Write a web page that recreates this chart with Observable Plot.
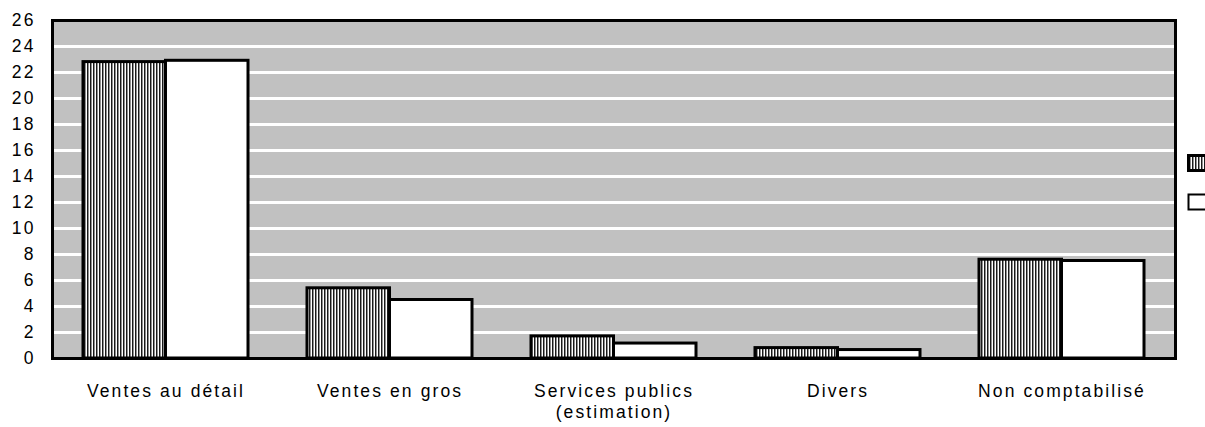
<!DOCTYPE html>
<html>
<head>
<meta charset="utf-8">
<script src="https://cdn.jsdelivr.net/npm/d3@7"></script>
<script src="https://cdn.jsdelivr.net/npm/@observablehq/plot@0.6"></script>
<style>
  html, body { margin: 0; padding: 0; background: #fff; overflow: hidden; }
  #wrap { position: relative; width: 1205px; height: 427px; }
  #wrap svg text { letter-spacing: 2.1px; }
  #legend { position: absolute; left: 1186px; top: 150px; }
</style>
</head>
<body>
<div id="wrap"></div>
<script>
// ---- data ----
const categories = ["Ventes au détail", "Ventes en gros", "Services publics\n(estimation)", "Divers", "Non comptabilisé"];
const seriesNames = ["Série 1", "Série 2"];
const serie1 = [22.8, 5.4, 1.7, 0.8, 7.6];
const serie2 = [22.9, 4.5, 1.15, 0.65, 7.5];
const yTicks = [0, 2, 4, 6, 8, 10, 12, 14, 16, 18, 20, 22, 24, 26];

const rows1 = categories.map((c, i) => ({category: c, series: seriesNames[0], value: serie1[i]}));
const rows2 = categories.map((c, i) => ({category: c, series: seriesNames[1], value: serie2[i]}));

// ---- layout ----
const W = 1205, H = 427;
const mL = 52, mR = 30, mT = 20, mB = 69;
const pIn = 0.265, pOut = 0.134;
const step = (W - mL - mR) / (categories.length - pIn + 2 * pOut);
const bw = step * (1 - pIn);
const half = bw / 2;

const chart = Plot.plot({
  width: W,
  height: H,
  marginLeft: mL,
  marginRight: mR,
  marginTop: mT,
  marginBottom: mB,
  style: {fontFamily: "'Liberation Sans', Arial, Helvetica, sans-serif", fontSize: "17.5px", color: "#000", background: "#fff"},
  x: {type: "band", domain: categories, paddingInner: pIn, paddingOuter: pOut},
  y: {domain: [0, 26]},
  marks: [
    Plot.frame({fill: "url(#bgPattern)", stroke: "none"}),
    Plot.ruleY(yTicks.filter(t => t > 0 && t < 26), {stroke: "#fff", strokeWidth: 3}),
    Plot.barY(rows1, {x: "category", y: "value", fill: "url(#stripePattern)", stroke: "#000", strokeWidth: 3, insetLeft: 0, insetRight: half}),
    Plot.barY(rows2, {x: "category", y: "value", fill: "#fff", stroke: "#000", strokeWidth: 3, insetLeft: half, insetRight: 0}),
    Plot.frame({stroke: "#000", strokeWidth: 3}),
    Plot.axisX({tickSize: 0, tickPadding: 24, label: null, lineHeight: 1.2, fontSize: 17.5}),
    Plot.axisY({ticks: yTicks, tickSize: 0, tickPadding: 17, label: null, fontSize: 17.5})
  ]
});

// patterns
const ns = "http://www.w3.org/2000/svg";
function addDefs(svg) {
  const defs = document.createElementNS(ns, "defs");
  defs.innerHTML = `
    <pattern id="bgPattern" patternUnits="userSpaceOnUse" width="2" height="2">
      <rect width="2" height="2" fill="#fff"/>
      <rect x="0" y="0" width="1" height="1" fill="#555"/>
      <rect x="1" y="0" width="1" height="1" fill="#d8d8d8"/>
      <rect x="0" y="1" width="1" height="1" fill="#d8d8d8"/>
    </pattern>
    <pattern id="stripePattern" patternUnits="userSpaceOnUse" width="3" height="3">
      <rect width="3" height="3" fill="#fff"/>
      <rect x="0" y="0" width="1" height="3" fill="#1a1a1a"/>
      <rect x="1" y="0" width="1" height="3" fill="#909090"/>
    </pattern>`;
  svg.insertBefore(defs, svg.firstChild);
}
addDefs(chart);
document.getElementById("wrap").appendChild(chart);

// legend (swatches only; labels fall outside the visible area in the reference)
const leg = document.createElementNS(ns, "svg");
leg.setAttribute("id", "legend");
leg.setAttribute("width", "19");
leg.setAttribute("height", "66");
leg.innerHTML = `
  <title>${seriesNames.join(" / ")}</title>
  <rect x="2.5" y="5.5" width="30" height="15" fill="url(#stripePattern)" stroke="#000" stroke-width="3"/>
  <rect x="2.5" y="44.5" width="30" height="15" fill="#fff" stroke="#000" stroke-width="2"/>`;
document.getElementById("wrap").appendChild(leg);
</script>
</body>
</html>
